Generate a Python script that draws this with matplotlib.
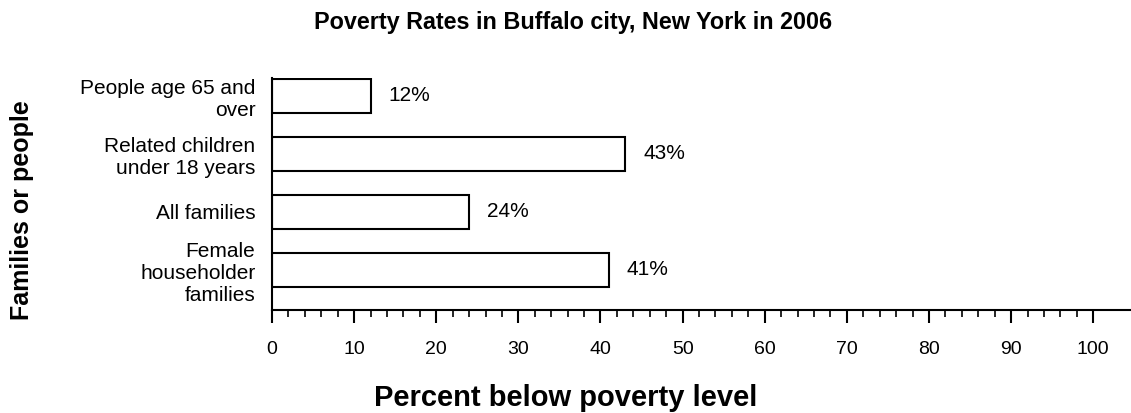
import matplotlib.pyplot as plt
from matplotlib.ticker import FixedLocator

categories = ["People age 65 and\nover", "Related children\nunder 18 years",
              "All families", "Female\nhouseholder\nfamilies"]
values = [12, 43, 24, 41]
value_labels = ["12%", "43%", "24%", "41%"]
x_ticks = [0, 10, 20, 30, 40, 50, 60, 70, 80, 90, 100]

plt.rcParams['font.family'] = ['Liberation Sans', 'DejaVu Sans']

fig = plt.figure(figsize=(11.31, 4.13), dpi=100)
ax = fig.add_axes([272 / 1131, 1 - 310 / 413, 1 - 272 / 1131, 232 / 413])

pos = list(range(len(categories)))
ax.barh(pos, values, height=0.59, color='white', edgecolor='black', linewidth=1.5)
for p, v, lab in zip(pos, values, value_labels):
    ax.text(v + 2.2, p, lab, va='center', ha='left', fontsize=15)

ax.set_xlim(0, 104.6)
ax.set_ylim(3.69, -0.31)
ax.set_yticks(pos)
ax.set_yticklabels(categories, fontsize=15, linespacing=1.2)
ax.tick_params(axis='y', length=0, pad=12)

ax.set_xticks(x_ticks)
ax.xaxis.set_minor_locator(FixedLocator(list(range(0, 101, 2))))
ax.tick_params(axis='x', which='major', length=9, width=1.5, labelsize=14, pad=13)
ax.tick_params(axis='x', which='minor', length=5, width=1.2)

for s in ['top', 'right']:
    ax.spines[s].set_visible(False)
ax.spines['left'].set_linewidth(1.5)
ax.spines['bottom'].set_linewidth(1.5)

fig.text(573 / 1131, 1 - 22 / 413, "Poverty Rates in Buffalo city, New York in 2006",
         ha='center', va='center', fontsize=16.8, fontweight='bold')
fig.text(566 / 1131, 1 - 398 / 413, "Percent below poverty level",
         ha='center', va='center', fontsize=21, fontweight='bold')
fig.text(22 / 1131, 1 - 210 / 413, "Families or people", rotation=90,
         ha='center', va='center', fontsize=18, fontweight='bold')

fig.savefig("out.png", dpi=100)
